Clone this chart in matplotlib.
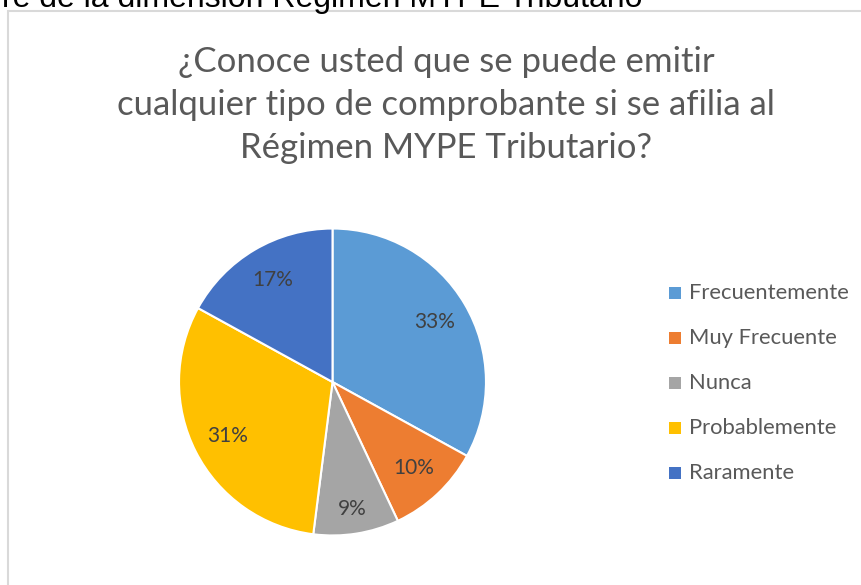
import numpy as np
import matplotlib.pyplot as plt
from matplotlib.patches import Rectangle

# =========================
# DATA
# =========================
categories = ["Frecuentemente", "Muy Frecuente", "Nunca", "Probablemente", "Raramente"]
values = [33, 10, 9, 31, 17]
colors = ["#5B9BD5", "#ED7D31", "#A5A5A5", "#FFC000", "#4472C4"]
title_lines = ["¿Conoce usted que se puede emitir",
               "cualquier tipo de comprobante si se afilia al",
               "Régimen MYPE Tributario?"]
top_caption = "re de la dimensión Régimen MYPE Tributario"

W, H = 862, 585
fig = plt.figure(figsize=(W / 100, H / 100), dpi=100)


def fx(px):
    return px / W


def fy(py):
    return 1 - py / H


# chart frame (cut by the image border on right and bottom)
fig.patches.append(Rectangle((fx(8), fy(600)), fx(900), fy(11) - fy(600),
                             transform=fig.transFigure, fill=False,
                             edgecolor="#D9D9D9", linewidth=1.5))

# cut-off caption above the chart
fig.text(fx(643), fy(7), top_caption, ha="right", va="baseline",
         fontsize=23, family="Liberation Sans", color="black")

# title, one line at a time
for i, line in enumerate(title_lines):
    fig.text(fx(446), fy(62 + i * 43), line, ha="center", va="center",
             fontsize=25, family="Lato", color="#595959")

# pie
cx, cy, r = 332.5, 382, 155
ax = fig.add_axes([fx(cx - r), fy(cy + r), (2 * r) / W, (2 * r) / H])
wedges, texts, autotexts = ax.pie(
    values, colors=colors, startangle=90, counterclock=False,
    autopct=lambda p: f"{p:.0f}%", pctdistance=0.77,
    wedgeprops=dict(edgecolor="white", linewidth=1.5),
    textprops=dict(fontsize=15, family="Lato", color="#404040"),
)
# small slice label sits a bit further out (like the Office best-fit)
w = wedges[2]
ang = np.deg2rad((w.theta1 + w.theta2) / 2)
autotexts[2].set_position((0.84 * np.cos(ang), 0.84 * np.sin(ang)))

ax.set_xlim(-1.01, 1.01)
ax.set_ylim(-1.01, 1.01)
ax.set_aspect("auto")
ax.axis("off")

# legend
for i, (lab, col) in enumerate(zip(categories, colors)):
    y = 293 + i * 45
    fig.patches.append(Rectangle((fx(669), fy(y + 6)), fx(12), fy(y - 6) - fy(y + 6),
                                 transform=fig.transFigure, facecolor=col,
                                 edgecolor="none"))
    fig.text(fx(689), fy(y), lab, ha="left", va="center", fontsize=15.8,
             family="Lato", color="#595959")

fig.savefig("out.png", dpi=100, facecolor="white")
